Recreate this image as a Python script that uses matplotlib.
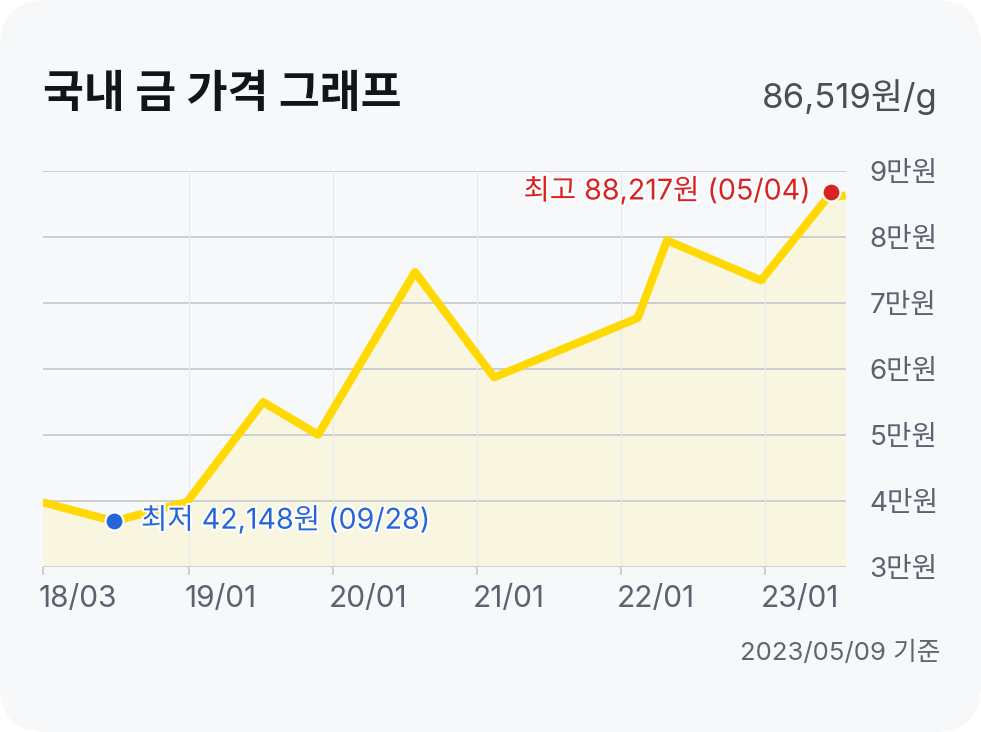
import matplotlib
matplotlib.use("Agg")
import matplotlib.pyplot as plt
from matplotlib.patches import FancyBboxPatch
from matplotlib.transforms import IdentityTransform
import matplotlib.transforms as mtrans
import matplotlib.patheffects as pe

plt.rcParams['font.family'] = ['Inter', 'Noto Sans CJK KR', 'DejaVu Sans']

# ---- data ----
x_month = [0, 5.96, 12.04, 18.38, 22.96, 31.04, 37.63, 49.6, 52.04, 59.88, 65.4, 66.93]
price = [39770, 36890, 39800, 54950, 50000, 74650, 58690, 67680, 79440, 73380, 85900, 86250]
tick_pos = [0, 12.21, 24.21, 36.21, 48.21, 60.18]
tick_labels = ['18/03', '19/01', '20/01', '21/01', '22/01', '23/01']
y_ticks = [30000, 40000, 50000, 60000, 70000, 80000, 90000]
y_labels = ['3만원', '4만원', '5만원', '6만원', '7만원', '8만원', '9만원']
min_point = (5.96, 36890)
max_point = (65.68, 86770)
min_text = '최저 42,148원 (09/28)'
max_text = '최고 88,217원 (05/04)'
title = '국내 금 가격 그래프'
current = '86,519원/g'
asof = '2023/05/09 기준'

W, H = 981, 732
fig = plt.figure(figsize=(W / 100, H / 100), dpi=100, facecolor='white')
card = FancyBboxPatch((0, 0), W, H, boxstyle="round,pad=0,rounding_size=46",
                      transform=IdentityTransform(), facecolor='#f7f8fa',
                      edgecolor='none', zorder=-5)
fig.patches.append(card)

L, R, T, B = 42.5, 845.7, 170.7, 566.7
ax = fig.add_axes([L / W, (H - B) / H, (R - L) / W, (B - T) / H])
ax.set_facecolor('none')
ax.set_xlim(0, 66.93)
ax.set_ylim(30000, 90000)

# grid
for yt in y_ticks:
    ax.axhline(yt, color='#c3c8ce', lw=1.2, zorder=1)
for xt in tick_pos[1:]:
    ax.axvline(xt, color='#e7e9ec', lw=0.9, zorder=1)

ax.fill_between(x_month, price, 30000, color='#f8f5e1', zorder=0.5, lw=0)
ax.plot(x_month, price, color='#ffd900', lw=5.8, solid_joinstyle='round',
        solid_capstyle='butt', zorder=3)

ax.plot([min_point[0]], [min_point[1]], 'o', ms=13, color='#2567d9',
        mec='white', mew=1.6, zorder=4, clip_on=False)
ax.plot([max_point[0]], [max_point[1]], 'o', ms=13, color='#d92323',
        mec='white', mew=1.6, zorder=4, clip_on=False)

halo = [pe.withStroke(linewidth=3, foreground='white')]
ax.annotate(min_text, xy=min_point, xytext=(27, 1), textcoords='offset pixels',
            ha='left', va='center', fontsize=20.6, color='#2567d9',
            path_effects=halo, zorder=5)
ax.annotate(max_text, xy=max_point, xytext=(-20, 1), textcoords='offset pixels',
            ha='right', va='center', fontsize=20.6, color='#d92323',
            path_effects=halo, zorder=5)

for s in ['top', 'left', 'right', 'bottom']:
    ax.spines[s].set_visible(False)

ax.set_xticks(tick_pos)
ax.set_xticklabels(tick_labels, ha='left', fontsize=21.5, color='#5b6370')
ax.tick_params(axis='x', length=6, width=1.2, color='#c3c8ce', pad=7)
ax.yaxis.tick_right()
ax.set_yticks(y_ticks)
ax.set_yticklabels(y_labels, fontsize=20, color='#5b6370')
ax.tick_params(axis='y', length=0, pad=17)

off = mtrans.ScaledTranslation(-4 / 100, 0, fig.dpi_scale_trans)
for lab in ax.get_xticklabels():
    lab.set_transform(lab.get_transform() + off)

fig.text(43 / W, 1 - 95 / H, title, ha='left', va='center', fontsize=32,
         fontweight='bold', color='#111418')
fig.text(938 / W, 1 - 97 / H, current, ha='right', va='center', fontsize=25,
         color='#4a4f57')
fig.text(940 / W, 1 - 653 / H, asof, ha='right', va='center', fontsize=18.5,
         color='#5f6670')

fig.savefig('out.png', dpi=100, facecolor='white')
